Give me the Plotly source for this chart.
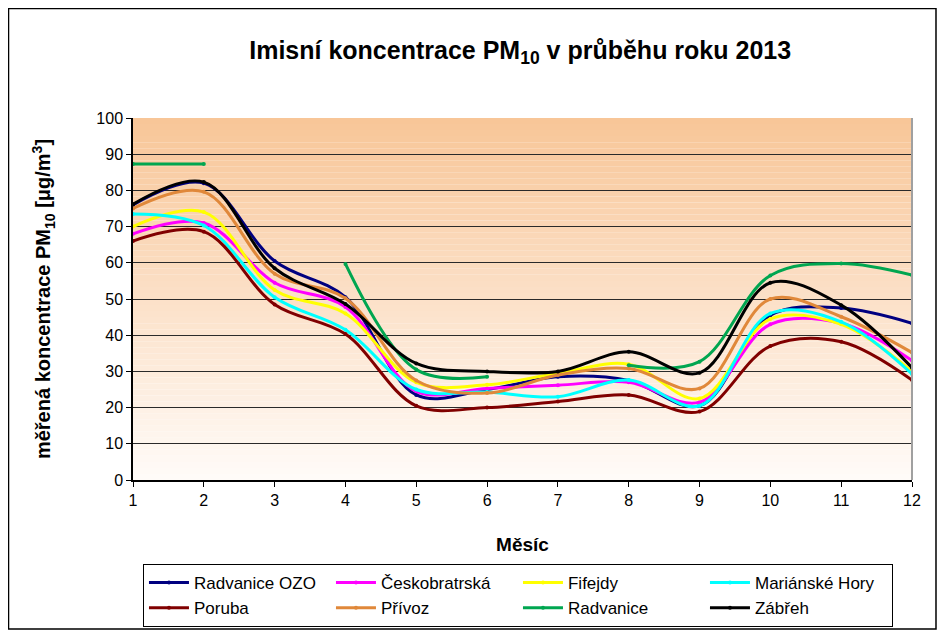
import plotly.graph_objects as go

months = [1, 2, 3, 4, 5, 6, 7, 8, 9, 10, 11, 12]

radvanice_ozo = [76, 82, 60.5, 50.5, 23.5, 25, 28.5, 27.5, 20.5, 45.5, 47.5, 43.3]
ceskobratrska = [68, 71, 54.5, 47.8, 24.5, 25.3, 26.2, 27, 21.5, 43, 43.3, 33]
fifejdy = [70, 74, 52.5, 46, 27, 26.3, 29.5, 32, 22.5, 44.5, 43, 30]
marianske_hory = [73.5, 70.3, 50.5, 41.5, 25, 24.3, 23, 27.6, 20.5, 46, 43.7, 29.3]
poruba = [66, 68.6, 48.5, 40.3, 20.5, 20, 21.7, 23.5, 18.9, 37, 38.2, 27.6]
privoz = [75, 79.6, 57, 50.2, 27.5, 24, 29, 30.8, 25.3, 50, 45.1, 35.2]
radvanice = [87.3, 87.3, None, 59.7, 30.5, 28.5, None, 31.7, 32.7, 56.5, 59.8, 56.6]
zabreh = [76.2, 82.3, 58.5, 48.6, 32.2, 30, 30, 35.4, 29.6, 54.5, 48.3, 31]

series = [
    ("Radvanice OZO", radvanice_ozo, "#000080"),
    ("Českobratrská", ceskobratrska, "#FF00FF"),
    ("Fifejdy", fifejdy, "#FFFF00"),
    ("Mariánské Hory", marianske_hory, "#00FFFF"),
    ("Poruba", poruba, "#800000"),
    ("Přívoz", privoz, "#E0883A"),
    ("Radvanice", radvanice, "#00A650"),
    ("Zábřeh", zabreh, "#000000"),
]

fig = go.Figure()
for name, vals, col in series:
    fig.add_trace(go.Scatter(
        x=months, y=vals, name=name, mode="lines+markers",
        line=dict(color=col, width=3, shape="spline", smoothing=1.0),
        marker=dict(color=col, size=4),
        connectgaps=False,
    ))

shapes = []
# gradient background of plot area
n = 60
top = (248, 198, 152)
bot = (255, 251, 248)
for i in range(n):
    t = i / (n - 1)
    c = tuple(round(top[k] + (bot[k] - top[k]) * t) for k in range(3))
    shapes.append(dict(type="rect", xref="x domain", yref="y domain",
                       x0=0, x1=1, y0=1 - (i + 1) / n, y1=1 - i / n,
                       fillcolor="rgb(%d,%d,%d)" % c, line=dict(width=0), layer="below"))
# right border of plot area
shapes.append(dict(type="line", xref="x domain", yref="y domain", x0=1, x1=1, y0=0, y1=1,
                   line=dict(color="#A0A0A0", width=2), layer="above"))
# outer chart frame
shapes.append(dict(type="rect", xref="paper", yref="paper",
                   x0=-0.1598, x1=1.0308, y0=-0.4116, y1=1.3025,
                   line=dict(color="#000000", width=1.5), fillcolor="rgba(0,0,0,0)", layer="below"))

fig.update_layout(
    width=929, height=622,
    margin=dict(l=125, r=25, t=110, b=150, autoexpand=False),
    paper_bgcolor="white", plot_bgcolor="white",
    font=dict(family="Liberation Sans, Arial, sans-serif", color="black", size=16),
    title=dict(text="<b>Imisní koncentrace PM<sub>10</sub> v průběhu roku 2013</b>",
               x=0.497, xref="paper", xanchor="center", y=0.932, yanchor="middle",
               font=dict(size=25)),
    xaxis=dict(range=[1, 12], dtick=1, tick0=1, showgrid=False, zeroline=False,
               showline=True, linecolor="#000000", linewidth=1.5,
               ticks="outside", ticklen=5, tickcolor="#000000",
               tickfont=dict(size=16),
               title=dict(text="<b>Měsíc</b>", font=dict(size=19), standoff=30)),
    yaxis=dict(range=[0, 100], dtick=10, tick0=0, showgrid=True, gridcolor="#2a2a2a", gridwidth=1,
               zeroline=False, showline=True, linecolor="#000000", linewidth=1.5,
               ticks="outside", ticklen=5, tickcolor="#000000",
               tickfont=dict(size=16),
               title=dict(text="<b>měřená koncentrace PM<sub>10</sub> [μg/m<sup>3</sup>]</b>",
                          font=dict(size=20), standoff=40)),
    legend=dict(orientation="h", x=0.0128, y=-0.232, xanchor="left", yanchor="top",
                bordercolor="#000000", borderwidth=1, bgcolor="white",
                font=dict(size=17), entrywidth=132, entrywidthmode="pixels",
                tracegroupgap=0, itemwidth=40),
    shapes=shapes,
    showlegend=True,
)

fig.write_html("out.html")
